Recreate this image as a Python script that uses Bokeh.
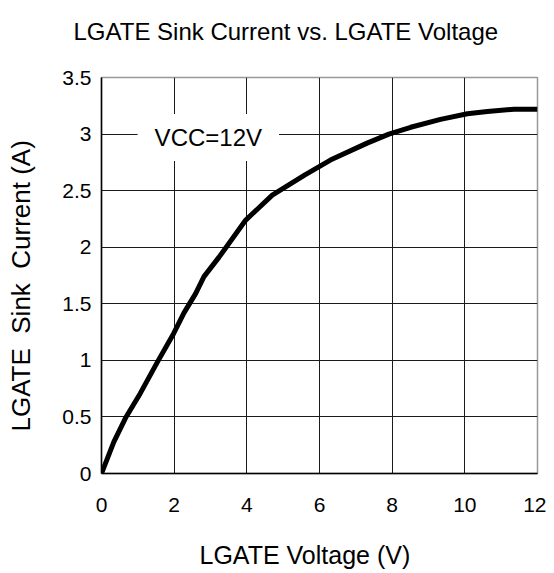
from bokeh.plotting import figure
from bokeh.models import Range1d, Label, FixedTicker, Title
from bokeh.embed import file_html
from bokeh.resources import INLINE

# Data
voltage = [0, 0.34, 0.66, 1.07, 1.53, 1.99, 2.27, 2.59, 2.82, 3.23, 3.97, 4.70,
           5.2, 5.6, 6.30, 7.31, 7.91, 8.51, 9.33, 10.07, 10.62, 11.35, 12]
current = [0, 0.28, 0.49, 0.71, 0.98, 1.24, 1.42, 1.59, 1.74, 1.91, 2.24, 2.46,
           2.56, 2.64, 2.77, 2.92, 3.0, 3.06, 3.13, 3.18, 3.20, 3.22, 3.22]
x_ticks = [0, 2, 4, 6, 8, 10, 12]
y_ticks = [0, 0.5, 1, 1.5, 2, 2.5, 3, 3.5]
y_tick_labels = ["0", "0.5", "1", "1.5", "2", "2.5", "3", "3.5"]

title_text = "LGATE Sink Current vs. LGATE Voltage"
x_label = "LGATE Voltage (V)"
y_label = "LGATE \u00a0Sink \u00a0Current (A)"
note_text = "VCC=12V"

FONT = "Liberation Sans"
W, H = 546, 570

p = figure(width=W, height=H, output_backend="svg", toolbar_location=None,
           x_range=Range1d(0, 12), y_range=Range1d(0, 3.5), title=None)
p.min_border_left = 101
p.min_border_right = 9
p.min_border_top = 77
p.min_border_bottom = H - 474
p.background_fill_color = "white"
p.border_fill_color = "white"
p.outline_line_color = "#999999"
p.outline_line_width = 1.5

p.xaxis.ticker = FixedTicker(ticks=x_ticks)
p.yaxis.ticker = FixedTicker(ticks=y_ticks)
p.yaxis.major_label_overrides = {t: l for t, l in zip(y_ticks, y_tick_labels)}
for ax in (p.xaxis, p.yaxis):
    ax.axis_line_color = "black"
    ax.axis_line_width = 1.5
    ax.major_tick_in = 0
    ax.major_tick_out = 0
    ax.minor_tick_in = 0
    ax.minor_tick_out = 0
    ax.major_label_text_font = FONT
    ax.major_label_text_font_size = "21px"
    ax.major_label_text_color = "black"
p.xaxis.major_label_standoff = 24
p.yaxis.major_label_standoff = 10

p.xgrid.ticker = FixedTicker(ticks=x_ticks)
p.ygrid.ticker = FixedTicker(ticks=y_ticks)
p.grid.grid_line_color = "#1a1a1a"
p.grid.grid_line_width = 1

p.line(voltage, current, line_color="black", line_width=5, line_join="round")

note = Label(x=2.94, y=2.97, text=note_text, text_font=FONT, text_font_size="24px",
             text_align="center", text_baseline="middle", text_color="black",
             background_fill_color="white",
             padding=dict(left=17, right=17, top=10, bottom=10))
p.add_layout(note)


def spacer(size):
    return Title(text=" ", text_font_size="1px", standoff=size)


# title above the frame
p.add_layout(spacer(28), "above")
p.add_layout(Title(text=title_text, text_font=FONT, text_font_size="24px",
                   text_font_style="normal", text_color="black",
                   align="left", offset=-28, standoff=4), "above")
# x axis label
p.add_layout(spacer(19), "below")
p.add_layout(Title(text=x_label, text_font=FONT, text_font_size="25px",
                   text_font_style="normal", text_color="black",
                   align="left", offset=98, standoff=4), "below")
# y axis label
p.add_layout(spacer(19), "left")
p.add_layout(Title(text=y_label, text_font=FONT, text_font_size="26px",
                   text_font_style="normal", text_color="black",
                   align="left", offset=42, standoff=4), "left")

open("out.html", "w").write(file_html(p, INLINE))
